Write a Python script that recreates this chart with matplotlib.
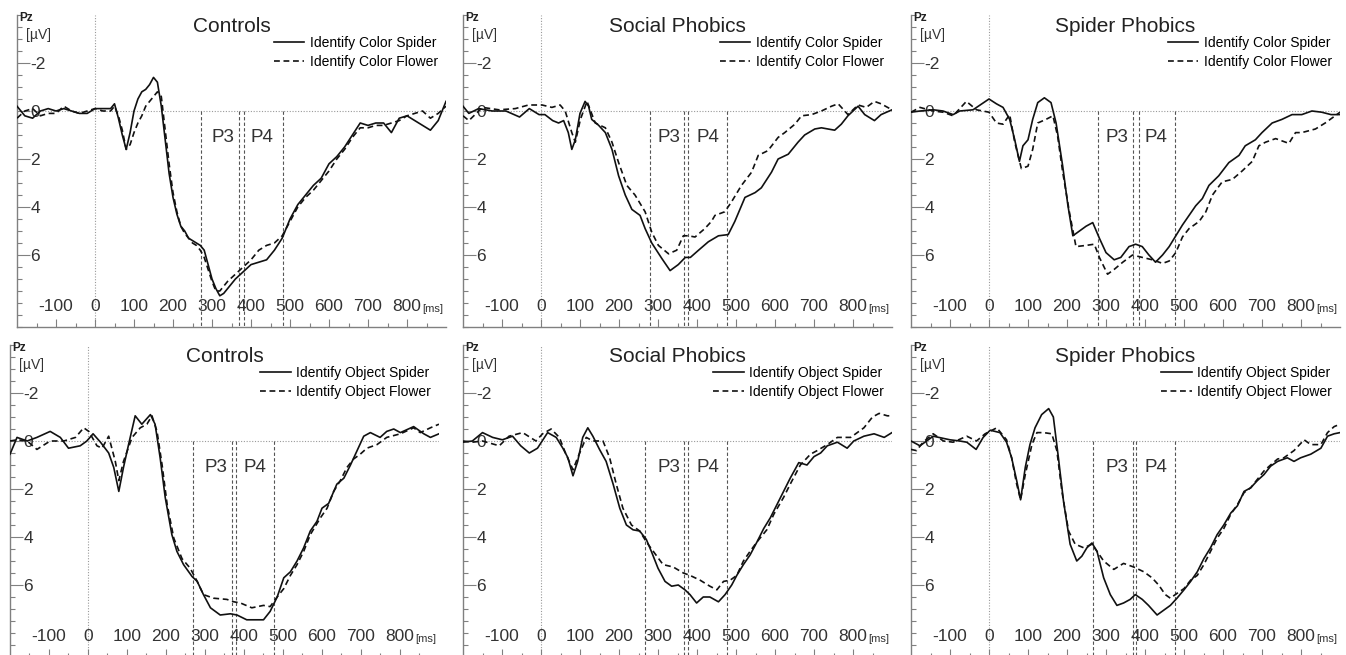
import matplotlib
matplotlib.use('Agg')
import matplotlib.pyplot as plt
from matplotlib.ticker import FixedLocator, MultipleLocator

plt.rcParams['font.family'] = ['Liberation Sans', 'DejaVu Sans']

# groups / conditions
groups = ['Controls', 'Social Phobics', 'Spider Phobics']
conditions = ['Color', 'Object']

# ERP at Pz, (ms, uV)
ctrl_color_spider = [(-200,-0.2),(-180,0.2),(-160,0.3),(-140,0.0),(-120,-0.1),(-100,0.0),(-80,-0.1),(-60,0.0),(-40,0.1),(-20,0.1),(0,-0.1),(20,-0.1),(40,-0.1),(50,-0.3),(60,0.3),(70,1.0),(80,1.6),(90,0.9),(100,0.0),(110,-0.5),(120,-0.8),(130,-0.9),(140,-1.1),(150,-1.4),(160,-1.2),(170,-0.2),(180,1.2),(190,2.6),(200,3.6),(210,4.3),(220,4.8),(230,5.0),(240,5.3),(250,5.4),(260,5.5),(270,5.6),(280,5.8),(290,6.4),(300,7.0),(310,7.4),(320,7.7),(330,7.6),(340,7.4),(360,7.0),(380,6.7),(400,6.4),(420,6.3),(440,6.2),(460,5.8),(480,5.3),(500,4.5),(520,3.9),(540,3.5),(560,3.1),(580,2.8),(600,2.2),(620,1.9),(640,1.5),(660,1.0),(680,0.5),(700,0.6),(720,0.5),(740,0.5),(760,0.9),(780,0.3),(800,0.2),(820,0.4),(840,0.6),(860,0.8),(880,0.4),(900,-0.4)]
ctrl_color_flower = [(-200,0.3),(-180,0.0),(-160,-0.1),(-140,0.2),(-120,0.1),(-100,0.1),(-80,-0.2),(-60,0.0),(-40,0.1),(-20,0.0),(0,-0.1),(20,0.0),(40,0.0),(50,-0.2),(60,0.2),(70,0.8),(80,1.6),(90,1.4),(100,0.9),(110,0.5),(120,0.2),(130,-0.2),(140,-0.4),(150,-0.6),(160,-0.8),(170,-0.6),(180,0.8),(190,2.2),(200,3.4),(210,4.2),(220,4.8),(230,5.1),(240,5.3),(250,5.5),(260,5.6),(270,5.8),(280,6.1),(290,6.6),(300,7.1),(310,7.5),(320,7.5),(330,7.3),(340,7.1),(360,6.8),(380,6.5),(400,6.2),(420,5.8),(440,5.6),(460,5.5),(480,5.2),(500,4.6),(520,4.0),(540,3.6),(560,3.3),(580,2.9),(600,2.5),(620,2.0),(640,1.6),(660,1.1),(680,0.7),(700,0.7),(720,0.6),(740,0.6),(760,0.5),(780,0.4),(800,0.2),(820,0.1),(840,0.0),(860,0.3),(880,0.1),(900,-0.2)]

soc_color_spider = [(-200,-0.2),(-185,0.1),(-160,-0.1),(-125,0.0),(-90,0.0),(-55,0.25),(-30,-0.1),(-5,0.15),(10,0.15),(30,0.4),(45,0.5),(58,0.4),(70,0.9),(79,1.6),(88,1.2),(100,0.1),(113,-0.4),(122,-0.2),(130,0.35),(148,0.6),(165,0.9),(182,1.6),(199,2.7),(216,3.5),(233,4.1),(254,4.35),(267,4.9),(284,5.5),(310,6.15),(331,6.65),(352,6.4),(370,6.1),(383,6.1),(404,5.8),(429,5.45),(455,5.2),(480,5.15),(497,4.6),(523,3.6),(549,3.4),(565,3.2),(591,2.55),(608,2.0),(634,1.8),(659,1.3),(676,1.0),(702,0.75),(719,0.7),(736,0.75),(753,0.8),(770,0.55),(787,0.2),(813,-0.2),(830,0.15),(855,0.4),(872,0.15),(900,-0.05)]
soc_color_flower = [(-200,0.2),(-185,0.4),(-150,-0.15),(-108,-0.05),(-66,-0.1),(-32,-0.25),(3,-0.25),(28,-0.15),(49,-0.25),(62,0.0),(79,0.9),(88,1.3),(101,0.35),(118,-0.4),(139,0.5),(165,0.7),(182,1.3),(199,2.15),(220,3.1),(241,3.5),(267,4.2),(284,5.05),(301,5.6),(327,5.95),(348,5.8),(365,5.2),(378,5.2),(395,5.25),(420,4.9),(437,4.6),(446,4.35),(471,4.2),(488,3.8),(514,3.1),(540,2.55),(557,1.85),(582,1.65),(608,1.1),(625,0.9),(651,0.55),(668,0.2),(694,0.15),(719,0.0),(745,-0.2),(762,-0.3),(787,0.15),(813,-0.25),(834,-0.15),(855,-0.4),(872,-0.3),(900,-0.05)]

spi_color_spider = [(-200,0.05),(-177,0.0),(-143,-0.05),(-118,0.0),(-92,0.15),(-75,0.0),(-41,-0.05),(0,-0.5),(19,-0.3),(36,-0.15),(53,0.35),(66,1.2),(78,2.1),(87,1.45),(100,1.2),(112,0.35),(125,-0.35),(142,-0.55),(159,-0.35),(172,0.5),(189,2.3),(202,3.9),(215,5.2),(232,5.0),(249,4.8),(266,4.65),(283,5.3),(300,5.9),(321,6.2),(338,6.1),(359,5.65),(376,5.55),(393,5.65),(410,6.0),(427,6.3),(445,6.0),(462,5.65),(479,5.2),(496,4.75),(513,4.35),(530,3.95),(547,3.65),(564,3.1),(589,2.7),(615,2.15),(641,1.85),(657,1.45),(683,1.2),(700,0.9),(726,0.5),(751,0.35),(777,0.15),(802,0.15),(828,0.0),(853,0.05),(877,0.15),(900,0.15)]
spi_color_flower = [(-200,0.05),(-177,-0.15),(-143,0.0),(-118,0.05),(-92,0.2),(-58,-0.4),(-32,-0.05),(0,0.05),(19,0.5),(36,0.55),(53,0.15),(66,1.3),(83,2.4),(100,2.3),(112,1.6),(125,0.5),(146,0.35),(164,0.2),(176,1.05),(189,2.55),(206,4.2),(223,5.65),(249,5.6),(270,5.55),(283,6.1),(304,6.8),(321,6.6),(343,6.3),(368,6.0),(393,6.1),(419,6.2),(445,6.35),(462,6.25),(479,5.9),(496,5.25),(513,4.9),(539,4.6),(556,4.2),(573,3.5),(598,2.95),(624,2.85),(649,2.5),(675,2.1),(692,1.45),(709,1.3),(735,1.15),(769,1.35),(786,0.9),(802,0.9),(837,0.75),(862,0.5),(879,0.3),(900,0.05)]

ctrl_obj_spider = [(-200,0.55),(-182,-0.15),(-156,0.0),(-131,-0.15),(-97,-0.4),(-71,-0.15),(-50,0.3),(-20,0.2),(-3,0.0),(13,-0.3),(32,0.05),(53,0.5),(66,1.1),(79,2.1),(91,1.1),(104,0.15),(121,-1.05),(138,-0.7),(160,-1.1),(172,-0.7),(185,0.7),(198,2.35),(215,3.9),(228,4.6),(245,5.15),(267,5.65),(280,5.85),(296,6.4),(314,6.95),(339,7.25),(365,7.2),(382,7.25),(407,7.45),(433,7.45),(450,7.45),(467,7.1),(485,6.5),(502,5.7),(519,5.45),(536,5.0),(553,4.45),(570,3.75),(587,3.35),(600,2.8),(617,2.6),(638,1.8),(656,1.55),(673,1.0),(690,0.4),(707,-0.2),(724,-0.35),(749,-0.15),(766,-0.4),(784,-0.5),(801,-0.35),(835,-0.6),(861,-0.3),(878,-0.15),(900,-0.3)]
ctrl_obj_flower = [(-200,0.0),(-182,-0.05),(-156,0.0),(-131,0.35),(-97,0.0),(-62,0.0),(-32,-0.15),(-11,-0.55),(2,-0.4),(23,0.2),(36,0.3),(53,-0.2),(70,0.85),(79,1.65),(91,0.85),(113,-0.15),(134,-0.55),(151,-0.7),(164,-1.05),(177,-0.4),(190,1.0),(203,2.65),(220,4.05),(241,4.9),(262,5.3),(280,5.85),(296,6.4),(322,6.55),(356,6.6),(374,6.7),(391,6.75),(420,6.95),(450,6.85),(467,6.9),(485,6.5),(502,6.15),(519,5.6),(536,5.15),(553,4.6),(570,3.9),(596,3.2),(613,2.8),(630,2.1),(647,1.65),(664,1.1),(681,0.75),(698,0.55),(715,0.3),(741,0.15),(766,-0.15),(801,-0.3),(835,-0.55),(852,-0.35),(878,-0.55),(900,-0.7)]

soc_obj_spider = [(-200,0.05),(-176,0.0),(-150,-0.35),(-124,-0.15),(-99,-0.05),(-73,-0.2),(-52,0.2),(-30,0.5),(-9,0.3),(17,-0.35),(39,-0.15),(56,0.3),(69,0.7),(82,1.45),(94,0.85),(107,-0.15),(120,-0.55),(133,-0.2),(150,0.35),(167,0.85),(185,1.8),(202,2.8),(219,3.5),(236,3.7),(253,3.75),(270,4.1),(283,4.6),(300,5.3),(318,5.85),(335,6.05),(352,6.0),(369,6.2),(382,6.4),(399,6.75),(416,6.5),(433,6.5),(455,6.7),(472,6.4),(489,6.0),(502,5.6),(519,5.15),(536,4.75),(554,4.2),(571,3.65),(588,3.2),(605,2.65),(622,2.1),(639,1.55),(661,0.9),(682,1.0),(700,0.65),(717,0.5),(734,0.2),(760,0.05),(785,0.3),(802,0.0),(828,-0.2),(854,-0.3),(880,-0.15),(900,-0.35)]
soc_obj_flower = [(-200,0.0),(-176,0.05),(-150,0.0),(-107,0.2),(-82,-0.2),(-47,-0.35),(-13,0.0),(4,-0.3),(26,-0.5),(47,-0.15),(64,0.55),(82,1.2),(94,0.7),(116,-0.15),(133,0.0),(159,0.0),(176,0.7),(193,1.8),(210,2.8),(232,3.5),(253,3.75),(270,4.2),(288,4.6),(313,5.15),(339,5.25),(365,5.5),(382,5.6),(408,5.8),(433,6.05),(451,6.2),(468,5.85),(485,5.8),(502,5.6),(519,5.0),(536,4.6),(554,4.2),(579,3.7),(597,3.05),(622,2.35),(639,1.8),(665,1.0),(691,0.55),(708,0.4),(734,0.15),(760,-0.15),(794,-0.15),(828,-0.55),(850,-1.0),(867,-1.15),(888,-1.05),(900,-1.05)]

spi_obj_spider = [(-200,0.0),(-177,0.2),(-143,-0.2),(-100,-0.05),(-75,0.0),(-57,0.05),(-33,0.35),(-15,-0.15),(3,-0.45),(28,-0.35),(45,0.05),(58,0.7),(71,1.65),(81,2.45),(93,1.1),(105,0.15),(118,-0.55),(135,-1.1),(153,-1.35),(165,-1.0),(178,0.7),(191,2.5),(208,4.3),(225,5.0),(238,4.8),(251,4.45),(264,4.25),(277,4.6),(294,5.7),(311,6.4),(328,6.85),(345,6.75),(362,6.6),(375,6.4),(393,6.6),(409,6.85),(431,7.25),(448,7.05),(465,6.85),(482,6.55),(500,6.2),(517,5.85),(534,5.45),(551,4.9),(568,4.45),(585,3.9),(602,3.5),(620,3.0),(637,2.7),(654,2.1),(671,1.95),(688,1.65),(705,1.4),(722,1.05),(740,0.85),(765,0.7),(782,0.85),(799,0.7),(825,0.55),(851,0.3),(868,-0.2),(885,-0.3),(900,-0.35)]
spi_obj_flower = [(-200,0.35),(-186,0.4),(-169,0.05),(-143,-0.3),(-117,0.0),(-92,0.05),(-57,-0.2),(-32,0.0),(-10,-0.3),(20,-0.55),(45,-0.05),(58,0.7),(71,1.8),(81,2.45),(93,1.4),(110,0.15),(123,-0.35),(140,-0.35),(161,-0.3),(174,0.4),(187,2.1),(204,3.75),(221,4.3),(243,4.45),(264,4.3),(277,4.6),(294,5.0),(320,5.35),(345,5.1),(371,5.25),(397,5.45),(418,5.7),(435,6.0),(452,6.4),(465,6.55),(482,6.35),(500,6.15),(517,5.8),(534,5.6),(551,5.15),(568,4.6),(585,4.05),(602,3.65),(620,3.05),(637,2.65),(654,2.15),(671,1.95),(688,1.6),(705,1.25),(722,1.0),(740,0.75),(756,0.7),(782,0.4),(808,-0.05),(825,0.15),(851,0.15),(868,-0.35),(885,-0.6),(900,-0.7)]

# P3 / P4 window borders (ms) per panel, row by row
windows = [[271, 368, 382, 481], [279, 366, 378, 478], [279, 369, 384, 478],
           [269, 370, 379, 477], [266, 366, 376, 476], [266, 369, 378, 478]]

xticks = [-100, 0, 100, 200, 300, 400, 500, 600, 700, 800]
yticks = [-2, 0, 2, 4, 6]
ytick_labels = ['-2', '0', '2', '4', '6']

spider = [ctrl_color_spider, soc_color_spider, spi_color_spider,
          ctrl_obj_spider, soc_obj_spider, spi_obj_spider]
flower = [ctrl_color_flower, soc_color_flower, spi_color_flower,
          ctrl_obj_flower, soc_obj_flower, spi_obj_flower]

W, H = 1346, 655
fig = plt.figure(figsize=(W / 100, H / 100), dpi=100)

# axes boxes in pixels (left, top)
lefts = [[17, 463, 911], [10, 463, 911]]
tops = [15, 345]
aw, ah = 429, 312
gray = '#808080'
ink = '#222222'

for r in range(2):
    for c in range(3):
        k = r * 3 + c
        ax = fig.add_axes([lefts[r][c] / W, 1 - (tops[r] + ah) / H, aw / W, ah / H])
        ax.set_facecolor('none')

        ax.axhline(0, color='#9a9a9a', lw=0.8, ls=(0, (1, 1.5)), zorder=1)
        ax.axvline(0, color='#9a9a9a', lw=0.8, ls=(0, (1, 1.5)), zorder=1)
        ax.vlines(windows[k], 0, 9, colors='#555555', lw=0.8, linestyles=(0, (3, 2)), zorder=1)

        ts, vs = zip(*spider[k])
        tf, vf = zip(*flower[k])
        ax.plot(ts, vs, color='#111111', lw=1.2, label='Identify ' + conditions[r] + ' Spider', zorder=3)
        ax.plot(tf, vf, color='#111111', lw=1.2, ls=(0, (3.5, 2.2)), label='Identify ' + conditions[r] + ' Flower', zorder=3)

        ax.set_xlim(-200, 900)
        ax.set_ylim(9, -4)

        for s in ['top', 'right']:
            ax.spines[s].set_visible(False)
        for s in ['left', 'bottom']:
            ax.spines[s].set_color(gray)
            ax.spines[s].set_linewidth(1.0)

        ax.xaxis.set_major_locator(FixedLocator(xticks))
        ax.xaxis.set_minor_locator(FixedLocator(list(range(-150, 851, 100))))
        ax.set_xticklabels([str(x) for x in xticks])
        ax.tick_params(axis='x', which='major', direction='in', length=5.5, width=0.8,
                       color=gray, pad=-20.5, labelsize=12.5, labelcolor='#333333')
        ax.tick_params(axis='x', which='minor', direction='in', length=3, width=0.8, color=gray)

        ax.yaxis.set_major_locator(FixedLocator(yticks))
        ax.yaxis.set_minor_locator(MultipleLocator(0.5))
        ax.set_yticklabels(ytick_labels, ha='left')
        ax.tick_params(axis='y', which='major', direction='in', length=9, width=0.8,
                       color=gray, pad=-9.5, labelsize=12.5, labelcolor='#333333')
        ax.tick_params(axis='y', which='minor', direction='in', length=3.5, width=0.8, color=gray)

        ax.annotate('[ms]', xy=(838, 0), xycoords=('data', 'axes fraction'), xytext=(0, 13),
                    textcoords='offset points', ha='left', va='center', fontsize=8, color='#333333')
        # channel name and unit, stacked in the top-left corner
        ax.annotate('Pz', xy=(0, 1), xycoords='axes fraction', xytext=(1.5, 2.5),
                    textcoords='offset points', ha='left', va='top', fontsize=8.5,
                    fontweight='bold', color=ink)
        ax.annotate('[µV]', xy=(0, 1), xycoords='axes fraction', xytext=(6.5, -17),
                    textcoords='offset points', ha='left', va='baseline', fontsize=10, color='#333333')

        ax.text(0.5, 1 - 12 / ah, groups[c], transform=ax.transAxes, ha='center', va='center',
                fontsize=15, color=ink)
        ax.text(327, 1.1, 'P3', ha='center', va='center', fontsize=13.5, color='#333333')
        ax.text(429, 1.1, 'P4', ha='center', va='center', fontsize=13.5, color='#333333')

        ax.legend(loc='upper right', bbox_to_anchor=(1 - 8 / aw, 1 - 21 / ah), frameon=False,
                  fontsize=10, handlelength=2.2, handletextpad=0.4, labelspacing=0.35,
                  borderpad=0, borderaxespad=0)

fig.savefig('out.png', dpi=100)
